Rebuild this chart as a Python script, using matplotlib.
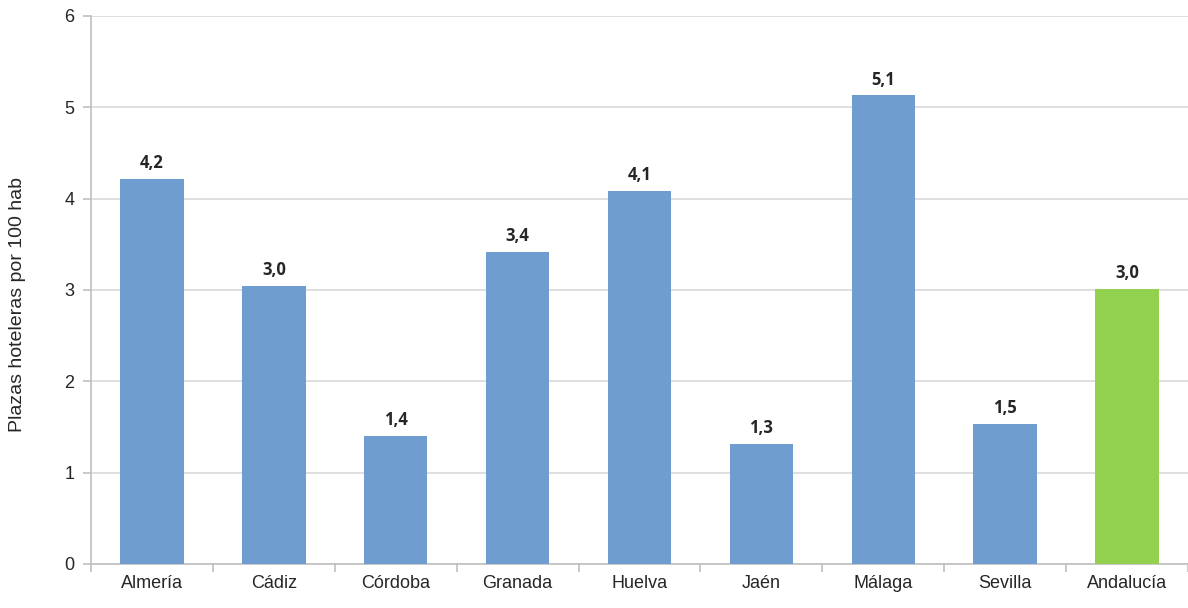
import matplotlib.pyplot as plt
from matplotlib.ticker import FixedLocator

provincias = ["Almería", "Cádiz", "Córdoba", "Granada", "Huelva",
              "Jaén", "Málaga", "Sevilla", "Andalucía"]
plazas = [4.22, 3.04, 1.40, 3.42, 4.08, 1.31, 5.13, 1.53, 3.01]
etiquetas = ["4,2", "3,0", "1,4", "3,4", "4,1", "1,3", "5,1", "1,5", "3,0"]

plt.rcParams['font.family'] = ['Liberation Sans', 'DejaVu Sans']

fig = plt.figure(figsize=(11.88, 6.08), dpi=100)
ax = fig.add_axes([91 / 1188, 44 / 608, 1 - 91 / 1188, 548 / 608])

colores = ["#6F9DD0"] * 8 + ["#92D050"]
x = range(len(provincias))
ax.bar(x, plazas, width=0.52, color=colores, zorder=3)

# Etiquetas de valor encima de cada barra
for i, (v, t) in enumerate(zip(plazas, etiquetas)):
    ax.annotate(t, (i, v), xytext=(0, 5), textcoords="offset points",
                ha="center", va="bottom", fontsize=12, fontweight="bold",
                color="#262626", family=["Open Sans", "DejaVu Sans"])

ax.set_xlim(-0.5, len(provincias) - 0.5)
ax.set_ylim(0, 6)
ax.set_yticks(range(0, 7))
ax.yaxis.grid(True, color="#D9D9D9", linewidth=1.2, zorder=0)

ax.set_xticks(list(x))
ax.set_xticklabels(provincias)
ax.tick_params(axis="x", length=0, labelsize=13, pad=8, colors="#262626")
ax.xaxis.set_minor_locator(FixedLocator([i + 0.5 for i in range(-1, len(provincias))]))
ax.tick_params(axis="x", which="minor", length=6, color="#BFBFBF", width=1.2)
ax.tick_params(axis="y", length=6, color="#BFBFBF", width=1.2, labelsize=13,
               pad=6, colors="#262626")
ax.tick_params(axis="y", colors="#BFBFBF", labelcolor="#262626")

for lado in ["top", "right"]:
    ax.spines[lado].set_visible(False)
for lado in ["left", "bottom"]:
    ax.spines[lado].set_color("#BFBFBF")
    ax.spines[lado].set_linewidth(1.2)

ax.set_ylabel("Plazas hoteleras por 100 hab", fontsize=14, color="#262626")
ax.yaxis.set_label_coords(-0.059, 0.473)

plt.savefig("out.png", dpi=100)
